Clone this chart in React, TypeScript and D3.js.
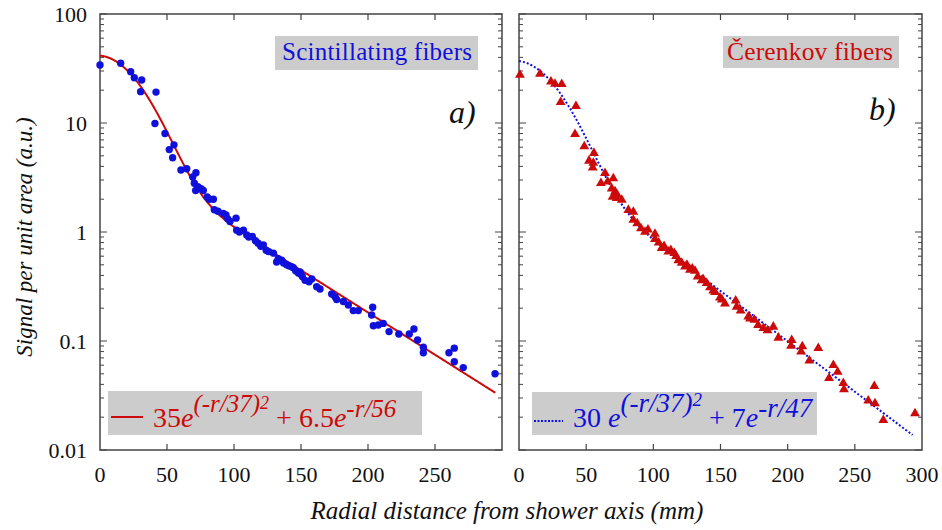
import React from 'react';
import * as d3 from 'd3';

// scintillating fibers (panel a)
const sciR = [0, 15.4, 22.9, 25.6, 31.1, 30.3, 41.8, 41, 48.5, 55.2, 51.7, 54.2, 60.4, 64.7, 69.2, 71.6, 70.4, 71.4, 75.4, 77.1,
  81.6, 84.6, 85.3, 92, 94, 95.3, 101.5, 102, 107, 109.5, 113.7, 118, 121.9, 124, 129.4, 131.8, 135.6, 139.3, 144.3, 149.3,
  73, 80, 88, 97, 104, 111, 116, 120, 126, 133, 137, 141, 146, 150, 156, 158,
  143, 148, 153, 151, 161.7, 164.2, 172.9, 175.4, 176.6, 181.6, 185.3, 189, 192.8, 203.5, 202.7, 204, 207.7, 211.4, 215.7,
  223, 230.8, 234.3, 237, 241.3, 241.3, 260.4, 264.4, 264.4, 271.1, 294.8];
const sciV = [34, 35.3, 29.6, 26, 24.8, 19.4, 19.2, 9.9, 8.0, 6.3, 5.7, 4.8, 3.7, 3.8, 3.2, 3.5, 2.8, 2.4, 2.5, 2.4,
  2.0, 2.0, 1.6, 1.48, 1.43, 1.32, 1.34, 1.04, 1.04, 0.94, 0.91, 0.79, 0.76, 0.68, 0.64, 0.53, 0.55, 0.50, 0.47, 0.43,
  2.6, 2.1, 1.55, 1.25, 1.0, 0.9, 0.83, 0.74, 0.66, 0.57, 0.52, 0.49, 0.44, 0.41, 0.35, 0.37,
  0.48, 0.42, 0.36, 0.39, 0.315, 0.30, 0.27, 0.255, 0.24, 0.23, 0.214, 0.19, 0.19, 0.204, 0.173, 0.138, 0.14, 0.145, 0.122,
  0.116, 0.116, 0.129, 0.102, 0.0875, 0.078, 0.078, 0.086, 0.0645, 0.057, 0.050];

// cerenkov fibers (panel b)
const cerR = [0.7, 15.6, 23.8, 26.8, 31.8, 31, 42.4, 41.7, 48.6, 55.8, 52.1, 55.3, 54.9, 64, 61, 70.2, 69, 71.5, 69.7, 72.7,
  76.5, 81.4, 85.1, 85.1, 90.8, 93.8, 101.2, 101.2, 106.2, 111.2, 115.6, 118.6, 121.1, 123.6, 127.3, 131, 133, 136, 139.7,
  142.2, 144.6, 149.6, 153.3, 161.3, 162, 170.7, 175.2, 181.9, 189.3, 193.1, 203, 202.5, 210.9, 210, 222.8, 216.1, 234,
  237.2, 230.8, 241.4, 241.9, 264.5, 260, 265, 271.2, 294.8,
  66, 73, 88, 96, 104, 108, 113, 117, 125, 129, 137, 146, 151, 165, 172, 178, 185];
const cerV = [27.6, 28.2, 23.9, 22.8, 22.7, 15.5, 14.3, 7.9, 6.1, 5.3, 4.5, 4.3, 3.9, 3.46, 2.8, 3.1, 2.5, 2.35, 2.1, 2.04,
  1.97, 1.59, 1.53, 1.29, 1.08, 1.0, 0.96, 0.86, 0.71, 0.66, 0.64, 0.55, 0.52, 0.48, 0.45, 0.44, 0.39, 0.36, 0.34,
  0.31, 0.29, 0.25, 0.22, 0.234, 0.206, 0.167, 0.156, 0.131, 0.135, 0.107, 0.102, 0.090, 0.089, 0.080, 0.086, 0.066, 0.060,
  0.052, 0.0455, 0.041, 0.036, 0.0386, 0.0283, 0.0268, 0.0188, 0.0217,
  2.9, 2.2, 1.2, 1.05, 0.8, 0.74, 0.68, 0.6, 0.5, 0.46, 0.37, 0.28, 0.24, 0.19, 0.16, 0.14, 0.125];

// fit parameters: A*exp(-(r/s1)^2) + B*exp(-r/s2)
const sciFit = [35, 37, 6.5, 56];
const cerFit = [30, 37, 7, 47];
const fitMaxR = [295, 293];

const xTickLabelsA = [0, 50, 100, 150, 200, 250];
const xTickLabelsB = [0, 50, 100, 150, 200, 250, 300];
const yTickLabels = ['0.01', '0.1', '1', '10', '100'];

const FONT = 'Liberation Serif';
const RED = '#cc0a0a';
const BLUE = '#1010dd';
const BOX = '#cccccc';

const y = d3.scaleLog().domain([0.01, 100]).range([450, 14]);

function fitValues(p: number[], maxR: number) {
  const rs = d3.range(0, maxR + 0.5, 1);
  return rs.map(r => ({ r, v: p[0] * Math.exp(-Math.pow(r / p[1], 2)) + p[2] * Math.exp(-r / p[3]) }));
}

function Frame({ x, labels, yLabels }: { x: d3.ScaleLinear<number, number>; labels: number[]; yLabels: boolean }) {
  const [x0, x1] = x.range();
  const [y0, y1] = y.range();
  const yt = y.ticks();
  const xt = [50, 100, 150, 200, 250];
  return (
    <g>
      <rect x={x0} y={y1} width={x1 - x0} height={y0 - y1} fill="none" stroke="#444" strokeWidth={1.5} />
      {xt.map(t => (
        <g key={t}>
          <line x1={x(t)} x2={x(t)} y1={y0} y2={y0 - 6} stroke="#444" strokeWidth={1.2} />
          <line x1={x(t)} x2={x(t)} y1={y1} y2={y1 + 6} stroke="#444" strokeWidth={1.2} />
        </g>
      ))}
      {yt.map((t, i) => {
        const major = Math.abs(Math.log10(t) - Math.round(Math.log10(t))) < 1e-6;
        const len = major ? 7 : 4;
        return (
          <g key={i}>
            <line x1={x0} x2={x0 + len} y1={y(t)} y2={y(t)} stroke="#444" strokeWidth={1} />
            <line x1={x1} x2={x1 - len} y1={y(t)} y2={y(t)} stroke="#444" strokeWidth={1} />
          </g>
        );
      })}
      {labels.map(t => (
        <text key={t} x={x(t)} y={482} textAnchor="middle" fontSize={22} fontFamily={FONT} fill="#111">{t}</text>
      ))}
      {yLabels && yTickLabels.map(t => (
        <text key={t} x={87} y={y(+t)} dy="0.35em" textAnchor="end" fontSize={22} fontFamily={FONT} fill="#111">{t}</text>
      ))}
    </g>
  );
}

export default function App() {
  const xa = d3.scaleLinear().domain([0, 300]).range([100, 502]);
  const xb = d3.scaleLinear().domain([0, 300]).range([519, 922]);
  const lineA = d3.line<{ r: number; v: number }>().x(d => xa(d.r)).y(d => y(d.v));
  const lineB = d3.line<{ r: number; v: number }>().x(d => xb(d.r)).y(d => y(d.v));
  const tri = d3.symbol().type(d3.symbolTriangle).size(42)();

  return (
    <svg width={942} height={530} style={{ position: 'absolute', left: 0, top: 0, background: '#fff' }}>
      {/* panel a */}
      <Frame x={xa} labels={xTickLabelsA} yLabels={true} />
      <path d={lineA(fitValues(sciFit, fitMaxR[0])) || ''} fill="none" stroke={RED} strokeWidth={2} />
      {sciR.map((r, i) => (
        <circle key={i} cx={xa(r)} cy={y(sciV[i])} r={3.7} fill={BLUE} />
      ))}
      <rect x={275} y={36} width={203} height={34} fill={BOX} />
      <text x={282} y={60} fontSize={25} fontFamily={FONT} fill={BLUE} textLength={190}>Scintillating fibers</text>
      <text x={449} y={123} fontSize={32} fontStyle="italic" fontFamily={FONT} fill="#111">a)</text>

      <rect x={108} y={391} width={314} height={44} fill={BOX} />
      <line x1={111} x2={143} y1={417} y2={417} stroke={RED} strokeWidth={2} />
      <text x={153} y={427} fontSize={28} fontFamily={FONT} fill={RED}>
        <tspan>35</tspan>
        <tspan fontStyle="italic">e</tspan>
        <tspan fontStyle="italic" fontSize={25} dy={-15}>(-r/37)</tspan>
        <tspan fontStyle="italic" fontSize={18} dy={-3}>2</tspan>
        <tspan dy={18}> + 6.5</tspan>
        <tspan fontStyle="italic">e</tspan>
        <tspan fontStyle="italic" fontSize={25} dy={-10}>-r/56</tspan>
      </text>

      {/* panel b */}
      <Frame x={xb} labels={xTickLabelsB} yLabels={false} />
      <path d={lineB(fitValues(cerFit, fitMaxR[1])) || ''} fill="none" stroke={BLUE} strokeWidth={2} strokeDasharray="2,2" />
      {cerR.map((r, i) => (
        <path key={i} d={tri || ''} transform={`translate(${xb(r)},${y(cerV[i])})`} fill={RED} />
      ))}
      <rect x={723} y={36} width={176} height={32} fill={BOX} />
      <text x={727} y={60} fontSize={25.5} fontFamily={FONT} fill={RED} textLength={166}>Čerenkov fibers</text>
      <text x={869} y={120} fontSize={32} fontStyle="italic" fontFamily={FONT} fill="#111">b)</text>

      <rect x={532} y={392} width={285} height={43} fill={BOX} />
      <line x1={534} x2={563} y1={421} y2={421} stroke={BLUE} strokeWidth={2} strokeDasharray="2,1.5" />
      <text x={573} y={427} fontSize={28} fontFamily={FONT} fill={BLUE}>
        <tspan>30 </tspan>
        <tspan fontStyle="italic">e</tspan>
        <tspan fontStyle="italic" fontSize={27} dy={-15}>(-r/37)</tspan>
        <tspan fontStyle="italic" fontSize={19} dy={-6}>2</tspan>
        <tspan dy={21}> + 7</tspan>
        <tspan fontStyle="italic">e</tspan>
        <tspan fontStyle="italic" fontSize={27} dy={-10}>-r/47</tspan>
      </text>

      {/* axis titles */}
      <text transform="translate(32,237) rotate(-90)" textAnchor="middle" fontSize={23} fontStyle="italic" fontFamily={FONT} fill="#111">
        Signal per unit area (a.u.)
      </text>
      <text x={507} y={519} textAnchor="middle" fontSize={25} fontStyle="italic" fontFamily={FONT} fill="#111">
        Radial distance from shower axis (mm)
      </text>
    </svg>
  );
}
